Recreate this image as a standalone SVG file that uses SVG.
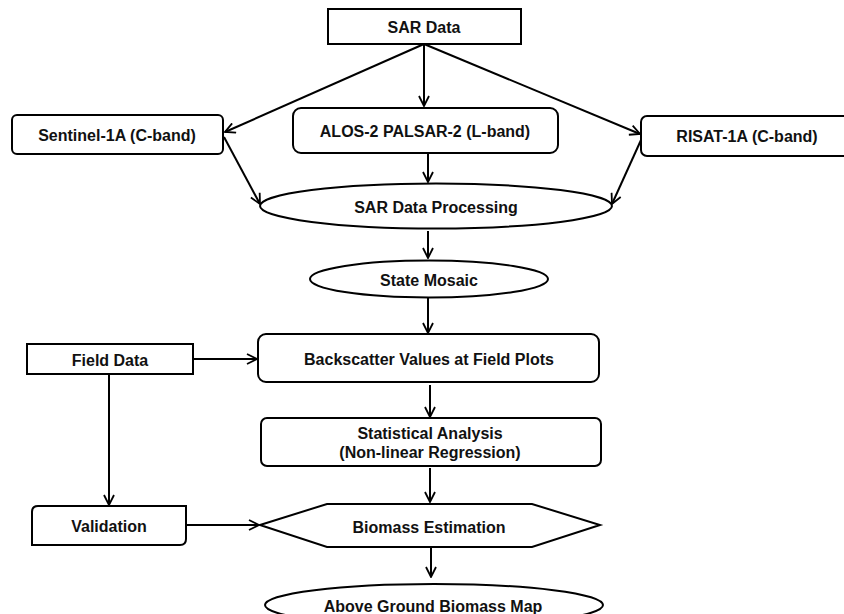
<svg xmlns="http://www.w3.org/2000/svg" width="844" height="614" viewBox="0 0 844 614">
<style>
.box{fill:#fff;stroke:#000;stroke-width:2}
.ln{fill:none;stroke:#000;stroke-width:2}
.t{font-family:"Liberation Sans",Arial,sans-serif;font-weight:bold;font-size:16px;text-anchor:middle;fill:#111}
</style>
<defs>
<marker id="ah" viewBox="0 0 12 12" refX="11" refY="6" markerWidth="12" markerHeight="12" markerUnits="userSpaceOnUse" orient="auto">
<path d="M1,1 L11,6 L1,11" fill="none" stroke="#000" stroke-width="1.8"/>
</marker>
</defs>
<rect width="844" height="614" fill="#fff"/>
<g id="connectors">
<line class="ln" x1="424" y1="44" x2="225" y2="132" marker-end="url(#ah)"/>
<line class="ln" x1="424" y1="44" x2="424" y2="106" marker-end="url(#ah)"/>
<line class="ln" x1="424" y1="44" x2="640" y2="134" marker-end="url(#ah)"/>
<line class="ln" x1="224" y1="137" x2="260" y2="204" marker-end="url(#ah)"/>
<line class="ln" x1="428" y1="153" x2="428" y2="182" marker-end="url(#ah)"/>
<line class="ln" x1="641" y1="140" x2="612" y2="204" marker-end="url(#ah)"/>
<line class="ln" x1="428" y1="231" x2="428" y2="258" marker-end="url(#ah)"/>
<line class="ln" x1="428" y1="298" x2="428" y2="333" marker-end="url(#ah)"/>
<line class="ln" x1="193" y1="359" x2="257" y2="359" marker-end="url(#ah)"/>
<line class="ln" x1="430" y1="385" x2="430" y2="417" marker-end="url(#ah)"/>
<line class="ln" x1="109" y1="374" x2="109" y2="505" marker-end="url(#ah)"/>
<line class="ln" x1="430" y1="468" x2="430" y2="502" marker-end="url(#ah)"/>
<line class="ln" x1="186" y1="525" x2="259" y2="525" marker-end="url(#ah)"/>
<line class="ln" x1="431" y1="548" x2="431" y2="577" marker-end="url(#ah)"/>
</g>
<g id="sar-data">
<rect class="box" x="328" y="9" width="193" height="35"/>
<text class="t" x="424" y="33">SAR Data</text>
</g>
<g id="sentinel">
<rect class="box" x="12" y="115" width="211" height="39" rx="5"/>
<text class="t" x="117" y="141">Sentinel-1A (C-band)</text>
</g>
<g id="alos">
<rect class="box" x="293" y="108" width="265" height="45" rx="8"/>
<text class="t" x="425" y="137">ALOS-2 PALSAR-2 (L-band)</text>
</g>
<g id="risat">
<rect class="box" x="641" y="116" width="215" height="40" rx="6"/>
<text class="t" x="747" y="142">RISAT-1A (C-band)</text>
</g>
<g id="sar-processing">
<ellipse class="box" cx="436" cy="206" rx="176" ry="22.5"/>
<text class="t" x="436" y="213">SAR Data Processing</text>
</g>
<g id="state-mosaic">
<ellipse class="box" cx="429" cy="279" rx="119" ry="18.5"/>
<text class="t" x="429" y="286">State Mosaic</text>
</g>
<g id="field-data">
<rect class="box" x="27" y="344" width="166" height="30"/>
<text class="t" x="110" y="366">Field Data</text>
</g>
<g id="backscatter">
<rect class="box" x="258" y="334" width="341" height="48" rx="8"/>
<text class="t" x="429" y="365">Backscatter Values at Field Plots</text>
</g>
<g id="statistical">
<rect class="box" x="261" y="418" width="340" height="48" rx="6"/>
<text class="t" x="430" y="439">Statistical Analysis</text>
<text class="t" x="430" y="458">(Non-linear Regression)</text>
</g>
<g id="validation">
<path class="box" d="M38,506 H186 V539 Q186,545 180,545 H32 V512 Q32,506 38,506 Z"/>
<text class="t" x="109" y="532">Validation</text>
</g>
<g id="biomass-estimation">
<polygon class="box" points="260,525 327,504 532,504 600,525 532,547 327,547"/>
<text class="t" x="429" y="533">Biomass Estimation</text>
</g>
<g id="agb-map">
<ellipse class="box" cx="434" cy="605" rx="169" ry="21"/>
<text class="t" x="433" y="612">Above Ground Biomass Map</text>
</g>
</svg>
